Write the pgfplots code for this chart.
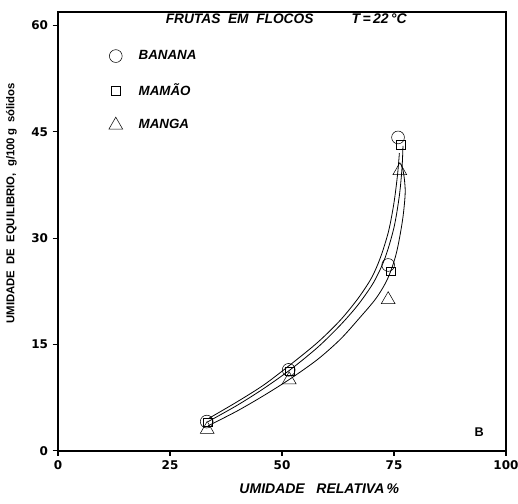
\documentclass[border=0pt]{standalone}
\usepackage{fontspec}
\setmainfont{Liberation Sans}
\newfontfamily\tickfont{DejaVu Sans}
\usepackage{pgfplots}
\pgfplotsset{compat=1.18}
\usetikzlibrary{calc}

\begin{document}
\begin{tikzpicture}
\begin{axis}[
  scale only axis,
  width=336pt, height=329pt,
  xmin=0, xmax=100, ymin=0, ymax=61.9,
  xtick={0,25,50,75,100}, ytick={0,15,30,45,60},
  xtick pos=bottom, ytick pos=left,
  tick align=outside, major tick length=4pt,
  axis line style={line width=1.4pt},
  tick style={line width=0.8pt, black},
  ticklabel style={font=\tickfont\bfseries\fontsize{9}{11}\selectfont},
  /pgf/number format/assume math mode=true,
  xlabel={\bfseries\itshape UMIDADE\ \ \ RELATIVA\,\%},
  ylabel={\bfseries UMIDADE\ \ DE\ \ EQUILIBRIO,\ \ g/100\,g\ \ sólidos},
  xlabel style={font=\fontsize{10.5}{12}\selectfont, yshift=-4pt, xshift=28pt},
  ylabel style={font=\fontsize{8.5}{10}\selectfont, yshift=4pt, xshift=21pt},
  legend style={at={(0.104,0.925)}, anchor=north west, draw=none, fill=none,
    font=\bfseries\itshape\fontsize{10}{12}\selectfont, row sep=12.5pt},
  legend cell align=left,
]
% fitted curves
\addplot[black, line width=0.6pt, smooth, forget plot] coordinates {
  (33.5,4.5)(40,6.9)(46,9.3)(52,12.2)(58,15.3)(63,18.4)(67,21.5)(70,24.4)
  (72,27.3)(73.8,31)(75,35)(75.8,39)(76.2,42)};
\addplot[black, line width=0.6pt, smooth, forget plot] coordinates {
  (33.5,4.1)(40,6.4)(46,8.8)(52,11.5)(58,14.6)(63,17.7)(67,20.6)(70.5,23.8)
  (73,27.2)(75,31.5)(76.2,36)(76.8,40)(77,43)};
\addplot[black, line width=0.6pt, smooth, forget plot] coordinates {
  (33.5,3.5)(40,5.6)(46,7.8)(52,10.2)(58,12.9)(63,15.7)(67,18.5)(71,21.5)
  (73.6,24.3)(75.5,27.8)(76.9,32.5)(77.5,36.5)(77.1,39.3)(76.5,40.5)};
% data points
\addplot[only marks, mark=o, mark size=4.8pt, black, thin] coordinates {
  (33.2,4.1)(51.5,11.4)(73.7,26.2)(75.9,44.2)};
\addplot[only marks, mark=square, mark size=3.2pt, black, thin] coordinates {
  (33.4,4.0)(51.7,11.2)(74.3,25.3)(76.5,43.2)};
\addplot[only marks, mark=triangle, mark size=6pt, black, thin] coordinates {
  (33.3,3.0)(51.6,10.0)(73.7,21.3)(76.3,39.5)};
\legend{\hspace{10pt}BANANA, \hspace{10pt}MAMÃO, \hspace{10pt}MANGA}
\node[anchor=west, font=\bfseries\itshape\fontsize{10.3}{12}\selectfont] at (axis cs:23,61) {FRUTAS\ \ EM\ \ FLOCOS};
\node[anchor=west, font=\bfseries\itshape\fontsize{10.5}{12}\selectfont] at (axis cs:64.5,61) {T\,=\,22\,°C};
\node[font=\bfseries\fontsize{9.5}{10}\selectfont] at (axis cs:94,2.6) {B};
\end{axis}
\pgfresetboundingbox
\path[use as bounding box] ($(current axis.south west)+(-43.5pt,-39.75pt)$)
  rectangle ($(current axis.north east)+(9pt,9pt)$);
\end{tikzpicture}
\end{document}
